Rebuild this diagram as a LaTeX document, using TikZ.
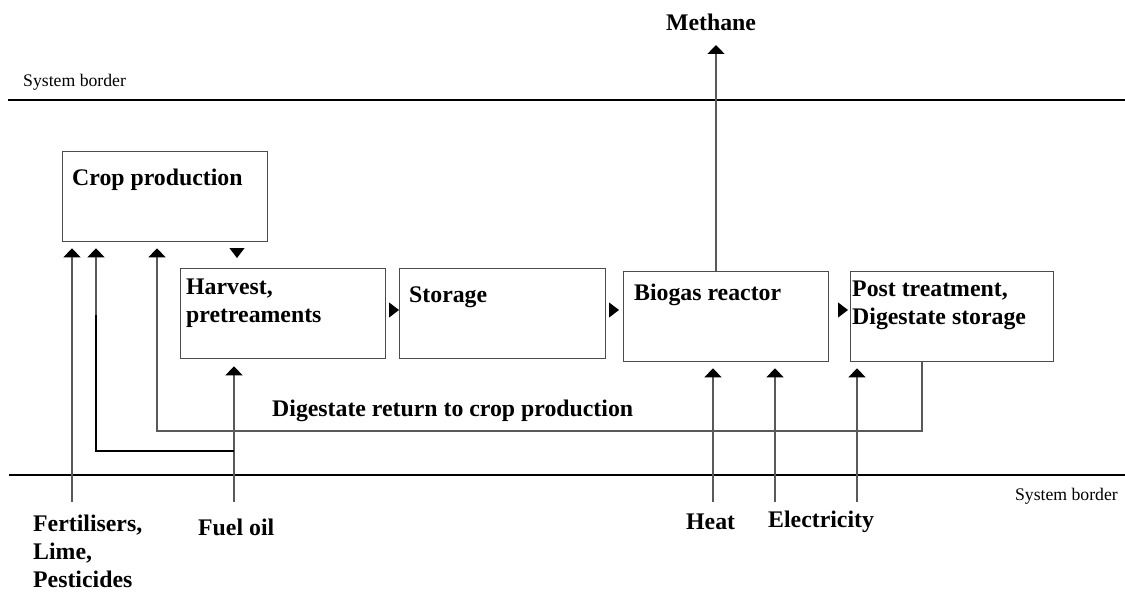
\documentclass[tikz,border=0pt]{standalone}
\usepackage{fontspec}
\setmainfont{Liberation Serif}
\usetikzlibrary{arrows.meta}
\tikzset{
  box/.style={draw=black!70, line width=1.3pt, anchor=north west, inner sep=0pt},
  lbl/.style={font=\fontsize{23.8}{28}\selectfont\bfseries, inner sep=0pt, align=left},
  small/.style={font=\fontsize{17.7}{20}\selectfont, inner sep=0pt},
  conn/.style={draw=black!65, line width=1.4pt},
  arr/.style={conn, -{Triangle[width=17pt,length=9pt,color=black,fill=black]}},
  flow/.style={draw=black, line width=1pt, -{Triangle[width=15pt,length=10pt]}},
  border/.style={draw=black, line width=1.2pt},
}
\begin{document}
\begin{tikzpicture}[x=1pt,y=-1pt]
\useasboundingbox (0,0) rectangle (1125,594);
\fill[white] (0,0) rectangle (1125,594);
% system borders
\coordinate (tbl) at (8,100); \coordinate (tbr) at (1125,100);
\coordinate (bbl) at (9,475); \coordinate (bbr) at (1125,475);
\draw[border] (tbl) -- (tbr);
\draw[border] (bbl) -- (bbr);
\node[small, anchor=west] (sbt) at (23,82) {System border};
\node[small, anchor=east] (sbb) at (1118,496) {System border};
% boxes
\node[box, minimum width=205pt, minimum height=90pt] (crop) at (62,151) {};
\node[box, minimum width=205pt, minimum height=90pt] (harvest) at (180,268) {};
\node[box, minimum width=206pt, minimum height=90pt] (storage) at (399,268) {};
\node[box, minimum width=205pt, minimum height=90pt] (biogas) at (623,271) {};
\node[box, minimum width=203pt, minimum height=90pt] (post) at (850,271) {};
% box texts
\node[lbl, anchor=west] (croptxt) at (72,180) {Crop production};
\node[lbl, anchor=north west] (harvtxt) at (186,279) {Harvest,\\pretreaments};
\node[lbl, anchor=west] (stortxt) at (409,297) {Storage};
\node[lbl, anchor=west] (biotxt) at (634,295) {Biogas reactor};
\node[lbl, anchor=north west] (posttxt) at (852,281) {Post treatment,\\Digestate storage};
% flow arrows between boxes
\coordinate (yf) at (0,310);
\draw[flow, shorten <=4pt] (harvest.east |- yf) -- (storage.west |- yf);
\draw[flow, shorten <=5pt, shorten >=4pt] (storage.east |- yf) -- (biogas.west |- yf);
\draw[flow, shorten <=9pt, shorten >=2pt] (biogas.east |- yf) -- (post.west |- yf);
% crop -> harvest
\coordinate (xch) at (237,0);
\draw[flow, shorten <=8pt, shorten >=10pt] (crop.south -| xch) -- (harvest.north -| xch);
% inputs to crop production
\coordinate (fertB) at (72,502);
\coordinate (fuelB) at (234,502);
\coordinate (fuelJ) at (234,451);
\coordinate (fuelC) at (96,451);
\coordinate (fuelK) at (96,315);
\draw[arr, shorten >=6pt] (fertB) -- (fertB |- crop.south);
\draw[arr, shorten >=7pt] (fuelB) -- (fuelB |- harvest.south);
\draw[draw=black, line width=1.8pt] (fuelJ) -- (fuelC) -- (fuelK);
\draw[arr, shorten >=6pt] (fuelK) -- (fuelK |- crop.south);
% digestate return
\coordinate (dx) at (922,0);
\coordinate (dR) at (922,431);
\coordinate (dL) at (157,431);
\draw[arr, shorten >=6pt] (post.south -| dx) -- (dR) -- (dL) -- (dL |- crop.south);
\node[lbl, anchor=west] (digtxt) at (272,411) {Digestate return to crop production};
% heat, electricity
\coordinate (heatB) at (713,502);
\coordinate (elB) at (775,502);
\coordinate (el2B) at (857,502);
\draw[arr, shorten >=6pt] (heatB) -- (heatB |- biogas.south);
\draw[arr, shorten >=6pt] (elB) -- (elB |- biogas.south);
\draw[arr, shorten >=6pt] (el2B) -- (el2B |- post.south);
% methane
\coordinate (methT) at (716,45);
\draw[arr] (biogas.north -| methT) -- (methT);
\node[lbl] (meth) at (711,22) {Methane};
% bottom labels
\node[lbl, anchor=north west] (fert) at (33,515) {Fertilisers,\\Lime,\\Pesticides};
\node[lbl, anchor=west] (fuel) at (198,527) {Fuel oil};
\node[lbl, anchor=west] (heat) at (686,522) {Heat};
\node[lbl, anchor=west] (elec) at (768,522) {Electricity};
\end{tikzpicture}
\end{document}
